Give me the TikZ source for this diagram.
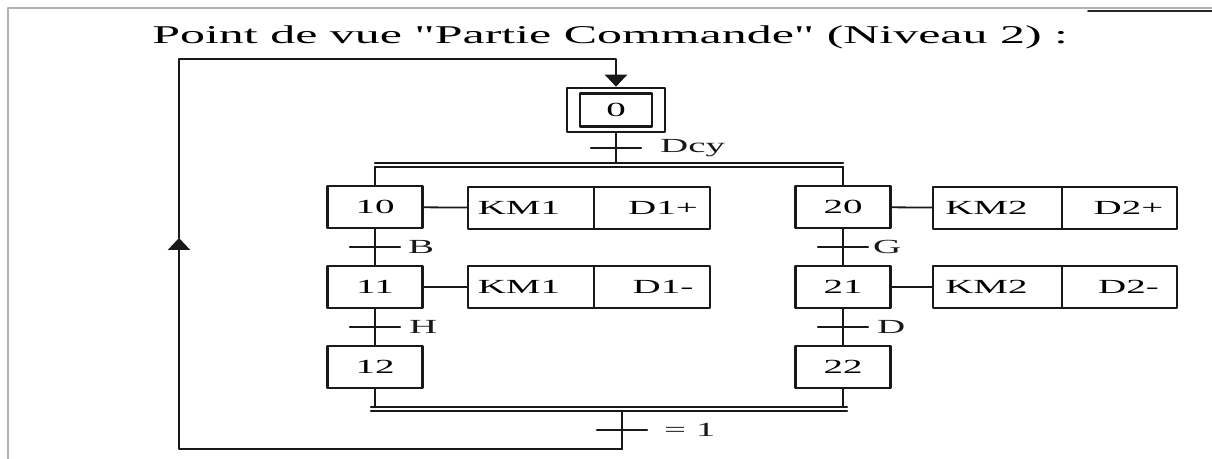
\documentclass[tikz,border=0pt]{standalone}
\usepackage{fontspec}
\setmainfont[FakeStretch=1.95,Ligatures=TeXOff]{Liberation Serif}
\usetikzlibrary{arrows.meta,calc}

\begin{document}
\begin{tikzpicture}[x=0.5pt,y=-0.5pt,line cap=round,line join=round,
        lien/.style={black!90,line width=1.2pt},
        etape/.style={draw=black!90,line width=1.3pt,minimum width=47.5pt,minimum height=21pt,inner sep=0pt,font=\fontsize{10}{12}\selectfont},
        action/.style={draw=black!90,line width=1.3pt,minimum height=21pt,inner sep=0pt,font=\fontsize{10}{12}\selectfont},
        recept/.style={anchor=west,inner sep=0pt,font=\fontsize{10}{12}\selectfont},
        fleche/.style={-{Triangle[width=11pt,length=6pt]}}]
        \useasboundingbox (0,0) rectangle (1212,459);

        \draw[gray!60,line width=0.7pt] (8,459) -- (8,8) -- (1212,8);
        \draw[black!85,line width=0.9pt] (1088,11) -- (1212,11);

        \node[anchor=base west,inner sep=0pt,font=\fontsize{12.8}{15}\selectfont] (titre) at (152,44) {Point de vue "Partie Commande" (Niveau 2) :};

        \node[etape,minimum width=49pt,minimum height=22pt] (e0) at (616,110) {};
        \node[etape,minimum width=36pt,minimum height=16.5pt] (e0i) at (616,110) {0};

        \node[etape] (e10) at (375,207) {10};
        \node[etape] (e11) at (375,287) {11};
        \node[etape] (e12) at (375,367) {12};
        \node[etape] (e20) at (843,207) {20};
        \node[etape] (e21) at (843,287) {21};
        \node[etape] (e22) at (843,367) {22};

        \node[action,minimum width=63pt] (a10k) at (531,208) {KM1\hspace*{12pt}};
        \node[action,minimum width=58pt] (a10d) at (652,208) {\hspace*{11pt}D1+};
        \node[action,minimum width=63pt] (a11k) at (531,287) {KM1\hspace*{12pt}};
        \node[action,minimum width=58pt] (a11d) at (652,287) {\hspace*{11pt}D1-};
        \node[action,minimum width=64.5pt] (a20k) at (997.5,208) {KM2\hspace*{11pt}};
        \node[action,minimum width=57.5pt] (a20d) at (1119.5,208) {\hspace*{9pt}D2+};
        \node[action,minimum width=64.5pt] (a21k) at (997.5,287) {KM2\hspace*{11pt}};
        \node[action,minimum width=57.5pt] (a21d) at (1119.5,287) {\hspace*{9pt}D2-};

        \draw[lien,line width=0.9pt] (e10) -- (a10k);
        \draw[lien,line width=0.9pt] (e11) -- (a11k);
        \draw[lien,line width=0.9pt] (e20) -- (a20k);
        \draw[lien,line width=0.9pt] (e21) -- (a21k);

        \coordinate (divG) at (375,163);
        \coordinate (divD) at (843,163);
        \coordinate (cvG) at (371,407);
        \coordinate (cvD) at (847,407);
        \coordinate (bas) at (622,449);
        \coordinate (gauche) at (179,238);
        \coordinate (haut) at (616,59);

        \draw[lien] (e0) -- coordinate (t0) (e0 |- divG);
        \draw[lien] (divG) -- (divD);
        \draw[lien] ([yshift=-2pt]divG) -- ([yshift=-2pt]divD);
        \draw[lien] ([yshift=-2pt]divG) -- (e10);
        \draw[lien] ([yshift=-2pt]divD) -- (e20);

        \draw[lien] (e10) -- coordinate (t1) (e11);
        \draw[lien] (e11) -- coordinate (t2) (e12);
        \draw[lien] (e20) -- coordinate (t3) (e21);
        \draw[lien] (e21) -- coordinate (t4) (e22);

        \draw[lien] (e12) -- (e12 |- cvG);
        \draw[lien] (e22) -- (e22 |- cvG);
        \draw[lien] (cvG) -- (cvD);
        \draw[lien] ([yshift=-2pt]cvG) -- ([yshift=-2pt]cvD);
        \draw[lien] ([yshift=-2pt]cvG -| bas) -- coordinate (t5) (bas);

        \draw[lien,fleche] (bas) -| (gauche);
        \draw[lien,fleche] (gauche) -- (gauche |- haut) -- (haut) -- (e0.north);

        \draw[lien] ([xshift=-12.5pt]t0) -- ([xshift=12.5pt]t0) node[recept,xshift=9pt] {Dcy};
        \draw[lien] ([xshift=-12.5pt]t1) -- ([xshift=12.5pt]t1) node[recept,xshift=3.5pt] {B};
        \draw[lien] ([xshift=-12.5pt]t2) -- ([xshift=12.5pt]t2) node[recept,xshift=4pt] {H};
        \draw[lien] ([xshift=-12.5pt]t3) -- ([xshift=12.5pt]t3) node[recept,xshift=2pt] {G};
        \draw[lien] ([xshift=-12.5pt]t4) -- ([xshift=12.5pt]t4) node[recept,xshift=4pt] {D};
        \draw[lien] ([xshift=-12.5pt]t5) -- ([xshift=12.5pt]t5) node[recept,xshift=8pt] {= 1};

\end{tikzpicture}
\end{document}
